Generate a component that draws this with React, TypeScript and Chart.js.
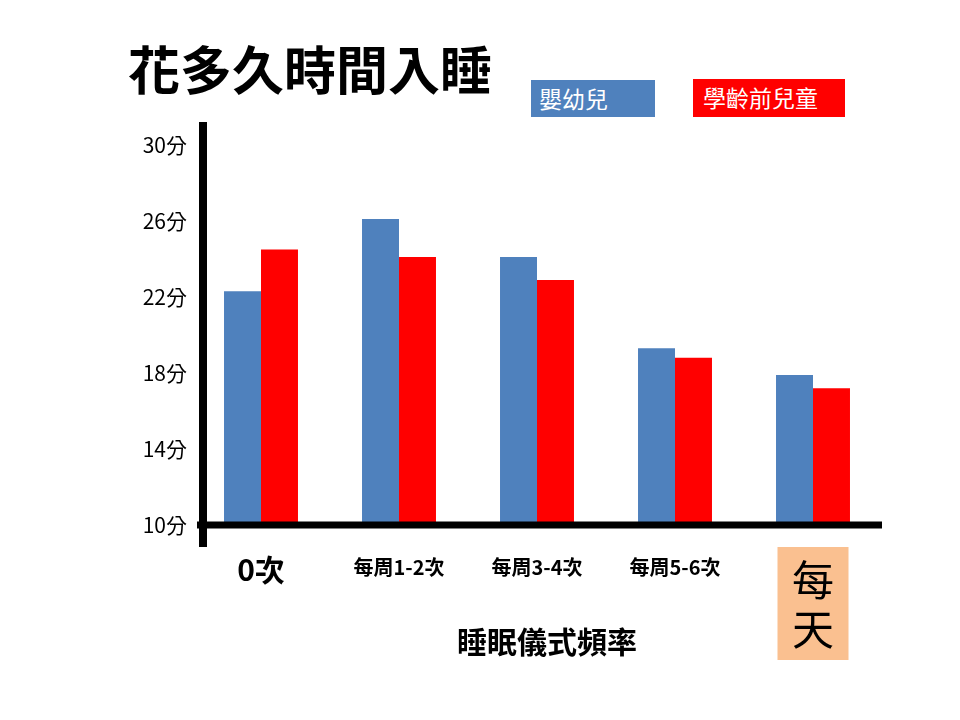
import { useEffect, useRef } from "react";
import { Chart, registerables } from "chart.js";

Chart.register(...registerables);

const title = "花多久時間入睡";
const axisTitle = "睡眠儀式頻率";
const categories: (string | string[])[] = ["0次", "每周1-2次", "每周3-4次", "每周5-6次", ["每", "天"]];
const seriesNames = ["嬰幼兒", "學齡前兒童"];
const infantValues = [22.3, 26.1, 24.1, 19.3, 17.9];
const preschoolValues = [24.5, 24.1, 22.9, 18.8, 17.2];
const seriesColors = ["#4F81BD", "#FF0000"];
const yTicks = [10, 14, 18, 22, 26, 30];
const highlightIndex = 4;

const FONT = '"Noto Sans CJK TC", "Noto Sans", sans-serif';

// orange box behind the last category label (drawn before the scales)
const labelBox = {
  id: "labelBox",
  beforeDraw(chart: any) {
    const { ctx, chartArea: a } = chart;
    const cx = chart.scales.x.getPixelForValue(highlightIndex);
    ctx.save();
    ctx.fillStyle = "#FAC090";
    ctx.fillRect(cx - 35.5, a.bottom + 22, 71, 113);
    ctx.restore();
  },
};

// thick black axis lines drawn over the bars, like the slide
const axisLines = {
  id: "axisLines",
  afterDatasetsDraw(chart: any) {
    const { ctx, chartArea: a } = chart;
    ctx.save();
    ctx.fillStyle = "#000";
    ctx.fillRect(a.left + 7, a.top - 23, 8, a.bottom - a.top + 45);
    ctx.fillRect(a.left + 5, a.bottom - 3.5, a.right - a.left - 5, 7);
    ctx.restore();
  },
};

function tickFont(i: number) {
  if (i === 0) return { family: FONT, size: 30, weight: "bold" as const, lineHeight: 1.0 };
  if (i === highlightIndex) return { family: FONT, size: 42, weight: "normal" as const, lineHeight: 1.17 };
  return { family: FONT, size: 20, weight: "bold" as const, lineHeight: 1.2 };
}

export default function App() {
  const chartRef = useRef<HTMLCanvasElement>(null);

  useEffect(() => {
    if (!chartRef.current) return;
    const ctx = chartRef.current.getContext("2d");
    if (!ctx) return;

    const chart = new Chart(ctx, {
      type: "bar",
      data: {
        labels: categories,
        datasets: [
          {
            label: seriesNames[0],
            data: infantValues,
            backgroundColor: seriesColors[0],
            barPercentage: 1,
            categoryPercentage: 0.536,
          },
          {
            label: seriesNames[1],
            data: preschoolValues,
            backgroundColor: seriesColors[1],
            barPercentage: 1,
            categoryPercentage: 0.536,
          },
        ],
      },
      options: {
        responsive: true,
        maintainAspectRatio: false,
        animation: false,
        layout: { padding: { top: 145, right: 78, bottom: 0, left: 0 } },
        plugins: {
          legend: { display: false },
          tooltip: { enabled: false },
        },
        scales: {
          x: {
            grid: { display: false, drawTicks: false },
            border: { display: false },
            afterFit: (scale: any) => {
              scale.height = 195;
            },
            ticks: {
              color: "#000",
              padding: 30,
              maxRotation: 0,
              autoSkip: false,
              font: (c: any) => tickFont(c.index),
            },
          },
          y: {
            min: 10,
            max: 30,
            grid: { display: false, drawTicks: false },
            border: { display: false },
            afterFit: (scale: any) => {
              scale.width = 192;
            },
            afterBuildTicks: (scale: any) => {
              scale.ticks = yTicks.map((v) => ({ value: v }));
            },
            ticks: {
              color: "#000",
              padding: 5,
              font: { family: FONT, size: 21 },
              callback: (v: any) => v + "分",
            },
          },
        },
      },
      plugins: [labelBox, axisLines],
    });

    return () => {
      chart.destroy();
    };
  }, []);

  return (
    <div style={{ position: "absolute", left: 0, top: 0, width: 960, height: 720, background: "#fff", fontFamily: FONT }}>
      <canvas ref={chartRef} />
      <div style={{ position: "absolute", left: 128, top: 40, fontSize: 52, lineHeight: "56px", fontWeight: "bold", color: "#000", whiteSpace: "nowrap" }}>
        {title}
      </div>
      <div style={{ position: "absolute", left: 531, top: 80, width: 124, height: 37, background: seriesColors[0], color: "#fff", fontSize: 23, lineHeight: "37px", paddingLeft: 8, boxSizing: "border-box", whiteSpace: "nowrap" }}>
        {seriesNames[0]}
      </div>
      <div style={{ position: "absolute", left: 693, top: 79, width: 152, height: 38, background: seriesColors[1], color: "#fff", fontSize: 23, lineHeight: "36px", paddingLeft: 10, boxSizing: "border-box", whiteSpace: "nowrap" }}>
        {seriesNames[1]}
      </div>
      <div style={{ position: "absolute", left: 547, top: 622, transform: "translateX(-50%)", fontSize: 30, lineHeight: "36px", fontWeight: "bold", color: "#000", whiteSpace: "nowrap" }}>
        {axisTitle}
      </div>
    </div>
  );
}
